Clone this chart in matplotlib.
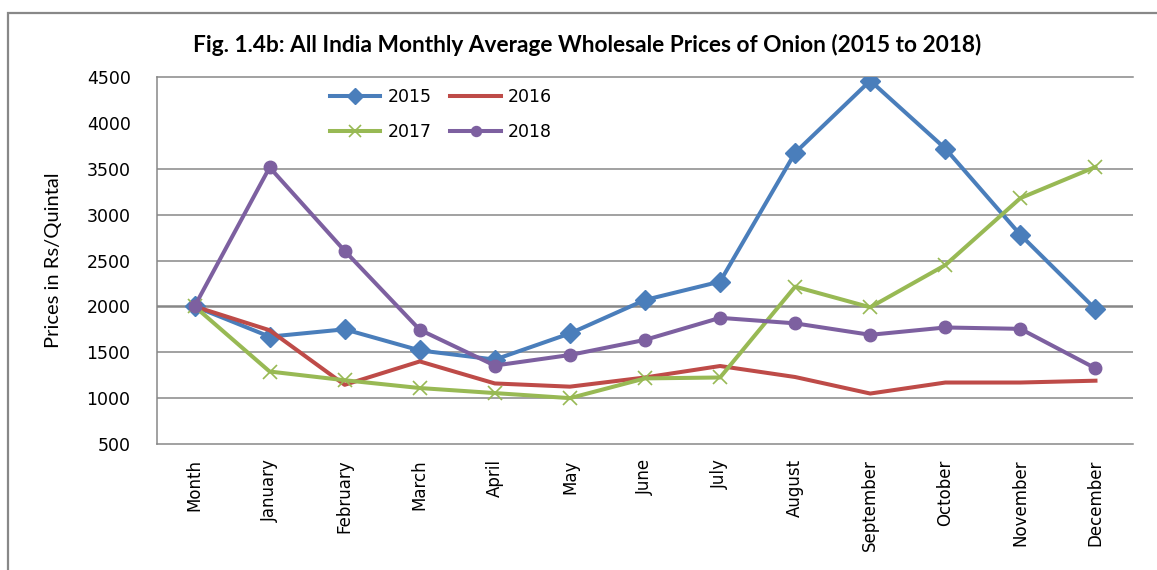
import matplotlib
matplotlib.use("Agg")
import matplotlib.pyplot as plt
from matplotlib.patches import Rectangle

months = ["Month", "January", "February", "March", "April", "May", "June",
          "July", "August", "September", "October", "November", "December"]
years = ["2015", "2016", "2017", "2018"]
p2015 = [2000, 1670, 1750, 1520, 1420, 1705, 2070, 2270, 3675, 4460, 3720, 2780, 1970]
p2016 = [2000, 1740, 1145, 1400, 1160, 1125, 1225, 1350, 1230, 1050, 1170, 1170, 1190]
p2017 = [2000, 1290, 1195, 1110, 1055, 1000, 1215, 1225, 2215, 1990, 2450, 3180, 3520]
p2018 = [2000, 3515, 2605, 1745, 1355, 1470, 1635, 1875, 1815, 1690, 1770, 1755, 1325]
yticks = [500, 1000, 1500, 2000, 2500, 3000, 3500, 4000, 4500]
gridvals = [1000, 1500, 2000, 2500, 3000, 3500]

colors = ["#4A7EBB", "#BE4B48", "#98B954", "#7D60A0"]
markers = ["D", None, "x", "o"]
msizes = [10, 0, 10, 9]

fig = plt.figure(figsize=(11.57, 5.70), dpi=100)
ax = fig.add_axes([157 / 1157, 1 - 444 / 570, (1133 - 157) / 1157, (444 - 77) / 570])

# outer frame of the chart
fig.patches.append(Rectangle((8 / 1157, -0.2), 1.2, 1.2 - 13 / 570,
                             transform=fig.transFigure, fill=False,
                             edgecolor="#888888", lw=1.6))

for g in gridvals:
    ax.axhline(g, color="#878787", lw=1.1 if g != 2000 else 1.8, zorder=1)

x = list(range(len(months)))
lines = []
for i, data in enumerate([p2015, p2016, p2017, p2018]):
    ln, = ax.plot(x, data, color=colors[i], lw=2.9, marker=markers[i], ms=msizes[i],
                  mew=1.2 if markers[i] == "x" else 1, label=years[i], zorder=3)
    lines.append(ln)

ax.set_xlim(-0.5, 12.5)
ax.set_ylim(500, 4500)
ax.set_yticks(yticks)
ax.set_yticklabels([str(v) for v in yticks])
ax.set_xticks(x)
ax.set_xticklabels(months, rotation=90, va="top")
ax.tick_params(axis="y", length=0, pad=19, labelsize=12.5, colors="black")
ax.tick_params(axis="x", length=0, pad=11, labelsize=12)
for s in ["left", "top", "bottom"]:
    ax.spines[s].set_color("#878787")
    ax.spines[s].set_linewidth(1.1)
ax.spines["right"].set_visible(False)

ax.set_ylabel("Prices in Rs/Quintal", family=["Lato", "DejaVu Sans"], fontsize=14.5)
ax.yaxis.set_label_coords(-95 / 976, 0.5)

fig.text(587 / 1157, 1 - 45 / 570,
         "Fig. 1.4b: All India Monthly Average Wholesale Prices of Onion (2015 to 2018)",
         family=["Lato", "DejaVu Sans"], fontweight="bold",
         fontsize=16.3, ha="center", va="center")

# row-major legend: 2015 2016 / 2017 2018
order = [0, 2, 1, 3]
ax.legend([lines[k] for k in order], [years[k] for k in order],
          loc="center", bbox_to_anchor=(441 / 1157, 1 - 114.5 / 570),
          bbox_transform=fig.transFigure, ncol=2, frameon=False, fontsize=12.5,
          handlelength=2.9, handletextpad=0.4, columnspacing=1.1, labelspacing=0.95,
          numpoints=1, markerscale=0.8)

fig.savefig("out.png", dpi=100)
